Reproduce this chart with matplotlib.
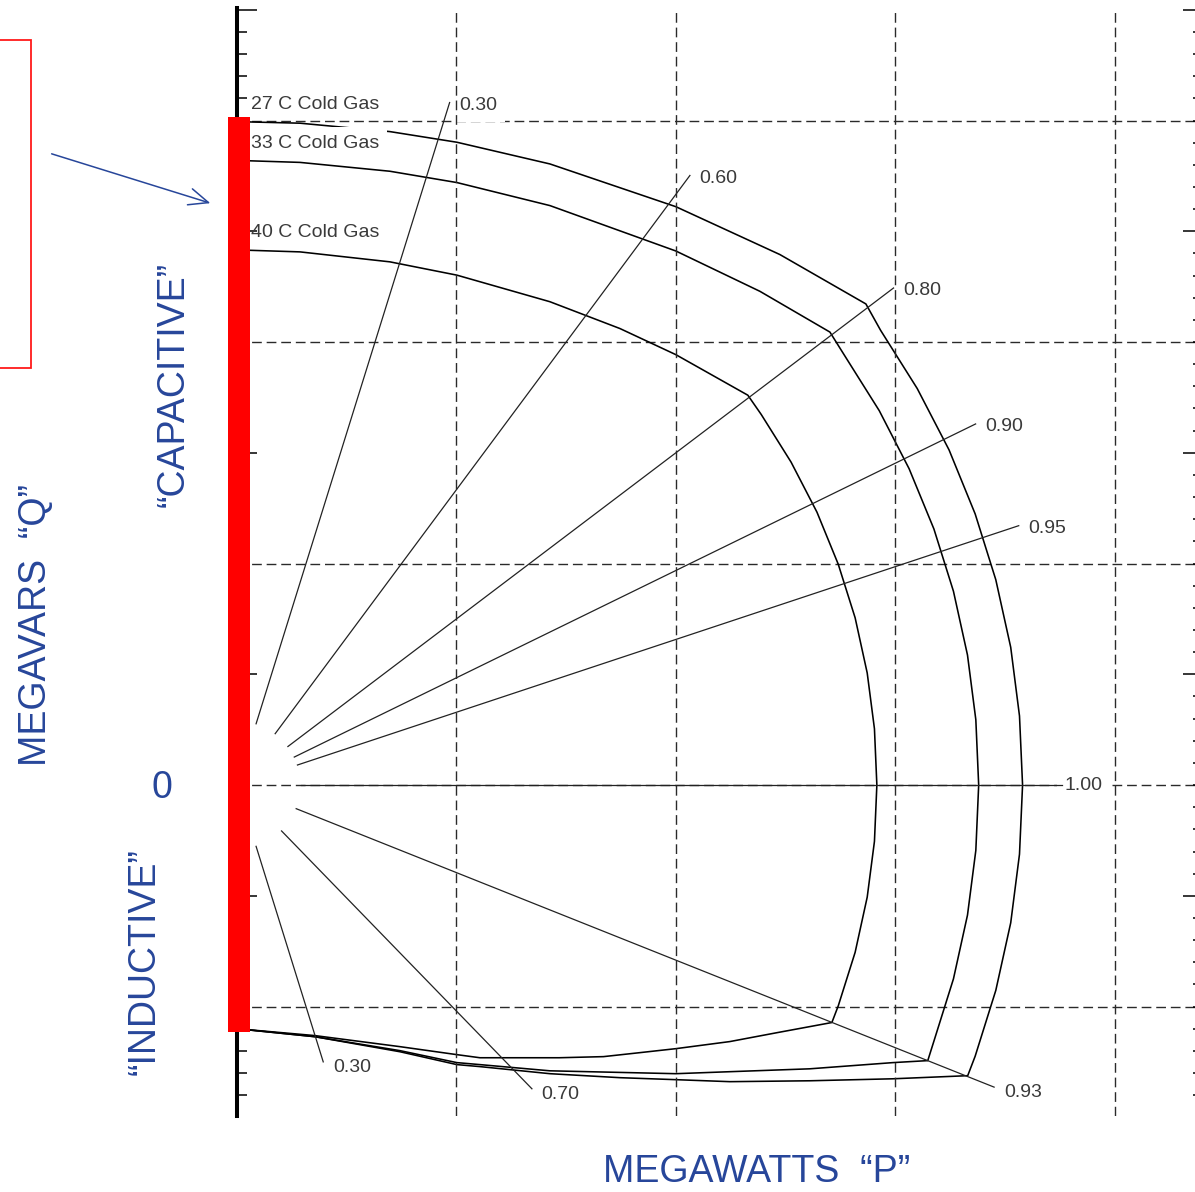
import numpy as np
import matplotlib
matplotlib.use('Agg')
import matplotlib.pyplot as plt
from matplotlib.patches import Rectangle, FancyArrowPatch
from matplotlib.ticker import MultipleLocator

plt.rcParams['font.family'] = ['Liberation Sans', 'DejaVu Sans']

# power factor lines (leading = capacitive, lagging = inductive)
pf_lead = [0.30, 0.60, 0.80, 0.90, 0.95, 1.00]
pf_lead_len = [323, 344, 374, 374, 375, 376]
pf_lag = [0.30, 0.70, 0.93]
pf_lag_len = [131, 192, 371]

# capability curves (MW, MVAr)
p_27 = [0, 28.7, 69.7, 100.2, 142.6, 200.0, 247.4, 286.6, 293.3, 310.0, 324.5, 336.4, 345.8,
        352.6, 356.6, 358.0, 356.6, 352.6, 345.8, 336.4, 333.0, 298.9, 261.0, 224.6, 200.0,
        174.5, 142.6, 110.7, 100.2, 74.3, 35.5, 0]
q_27 = [299.5, 298.8, 295.0, 290.2, 280.4, 261.1, 239.5, 217.2, 205.3, 179.0, 151.3, 122.4, 92.7,
        62.2, 31.2, 0, -31.2, -62.2, -92.7, -122.4, -131.2, -132.6, -133.5, -133.9, -133.0,
        -132.1, -130.3, -127.1, -126.2, -120.4, -113.6, -110.0]
p_33 = [0, 28.7, 69.7, 100.2, 142.6, 200.0, 238.3, 270.2, 276.9, 292.7, 306.3, 317.6, 326.5,
        332.9, 336.7, 338.0, 336.7, 332.9, 326.5, 317.6, 314.8, 298.9, 261.0, 224.6, 200.0,
        142.6, 110.7, 100.2, 74.3, 35.5, 0]
q_33 = [282.0, 281.1, 277.1, 272.0, 261.6, 241.1, 222.9, 204.5, 193.9, 169.0, 142.8, 115.6, 87.5,
        58.7, 29.5, 0, -29.5, -58.7, -87.5, -115.6, -124.4, -125.3, -128.1, -129.4, -130.3,
        -129.0, -126.2, -125.3, -119.9, -113.6, -110.0]
p_40 = [0, 28.7, 69.7, 100.2, 142.6, 174.5, 200.0, 232.8, 238.9, 252.5, 264.3, 274.0, 281.7,
        287.2, 290.5, 291.6, 290.5, 287.2, 281.7, 274.0, 271.1, 246.0, 224.6, 200.0, 183.6,
        167.0, 146.8, 110.7, 100.2, 74.3, 35.5, 0]
q_40 = [241.6, 240.7, 236.2, 230.2, 218.2, 206.1, 194.3, 176.0, 167.3, 145.8, 123.2, 99.7, 75.5,
        50.6, 25.4, 0, -25.4, -50.6, -75.5, -99.7, -107.2, -111.8, -115.8, -119.0, -120.8,
        -122.6, -123.1, -123.1, -121.7, -118.1, -113.1, -110.0]

p_grid = [100, 200, 300, 400]
q_grid = [-100, 0, 100, 200, 300]

BLUE = '#27469a'
GRAY = '#3a3a3a'
grid_kw = dict(color='#2a2a2a', lw=1.0, ls=(0, (7, 3.5)))

fig = plt.figure(figsize=(11.95, 11.92), dpi=100)
ax = fig.add_axes([237 / 1195, 76 / 1192, 965.5 / 1195, 1108 / 1192])
ax.set_xlim(0, 440)
ax.set_ylim(-149.4, 350.8)

# grid
for q in q_grid:
    ax.axhline(q, zorder=1, **grid_kw)
for p in p_grid:
    ax.axvline(p, zorder=5, **grid_kw)

# cold gas curves
ax.plot(p_27, q_27, color='black', lw=1.15, zorder=2.2)
ax.plot(p_33, q_33, color='black', lw=1.15, zorder=3)
ax.plot(p_40, q_40, color='black', lw=1.15, zorder=3)

ax.text(6.4, 307.4, '27 C Cold Gas', fontsize=14, color=GRAY, ha='left', va='center', zorder=2.5)
ax.text(6.4, 289.7, '33 C Cold Gas', fontsize=14, color=GRAY, ha='left', va='center', zorder=2.5,
        bbox=dict(boxstyle='square,pad=0.38', fc='white', ec='none'))
ax.text(6.4, 249.4, '40 C Cold Gas', fontsize=14, color=GRAY, ha='left', va='center', zorder=2.5)

# power factor lines
r0 = 29
lbl_box = dict(boxstyle='square,pad=0.4', fc='white', ec='none')
for pfs, lens, sign in [(pf_lead, pf_lead_len, 1), (pf_lag, pf_lag_len, -1)]:
    for pf, r1 in zip(pfs, lens):
        th = sign * np.arccos(pf)
        ax.plot([r0 * np.cos(th), r1 * np.cos(th)], [r0 * np.sin(th), r1 * np.sin(th)],
                color='#222222', lw=0.9, zorder=3)
        dx, dy = (2, 0) if pf == 1.0 else (7, -2 if sign > 0 else -4)
        ax.annotate(f'{pf:.2f}', xy=(r1 * np.cos(th), r1 * np.sin(th)), xytext=(dx, dy),
                    textcoords='offset points', fontsize=14, color=GRAY, ha='left', va='center',
                    bbox=lbl_box, zorder=2.5)

# axes look
for s in ['top', 'bottom', 'right']:
    ax.spines[s].set_visible(False)
ax.spines['left'].set_linewidth(2.9)
ax.set_xticks([])
ax.yaxis.set_major_locator(MultipleLocator(100, offset=50))
ax.yaxis.set_minor_locator(MultipleLocator(10))
ax.tick_params(axis='y', which='both', direction='in', left=True, right=True,
               labelleft=False, labelright=False, width=1.1, color='black')
ax.tick_params(axis='y', which='major', length=14.4)
ax.tick_params(axis='y', which='minor', length=7.2)

# red highlight bar on the Q axis
ax.add_patch(Rectangle((-4.1, -111.4), 10.0, 412.9, facecolor='#ff0000', edgecolor='none',
                       zorder=10, clip_on=False))

# annotation box and arrow
fig.patches.append(Rectangle((-0.005, 1 - 368 / 1192), 37 / 1195, 328 / 1192, transform=fig.transFigure,
                             fill=False, edgecolor='#ff1a1a', lw=1.3))
fig.patches.append(FancyArrowPatch((49 / 1195, 1 - 153 / 1192), (213 / 1195, 1 - 204 / 1192),
                                   transform=fig.transFigure, arrowstyle='->,head_length=0.7,head_width=0.3',
                                   mutation_scale=20, color=BLUE, lw=1.1))

# axis captions
fig.text(36.2 / 1195, 1 - 625 / 1192, 'MEGAVARS  \u201cQ\u201d', rotation=90, fontsize=27,
         color=BLUE, ha='center', va='center')
fig.text(173.7 / 1195, 1 - 384 / 1192, '\u201cCAPACITIVE\u201d', rotation=90, fontsize=27,
         color=BLUE, ha='center', va='center')
fig.text(144.7 / 1195, 1 - 962 / 1192, '\u201cINDUCTIVE\u201d', rotation=90, fontsize=27,
         color=BLUE, ha='center', va='center')
fig.text(162 / 1195, 1 - 787.7 / 1192, '0', fontsize=27, color=BLUE, ha='center', va='center')
fig.text(757 / 1195, 1 - 1190 / 1192, 'MEGAWATTS  \u201cP\u201d', fontsize=27, color=BLUE,
         ha='center', va='bottom')

fig.savefig('out.png', dpi=100)
